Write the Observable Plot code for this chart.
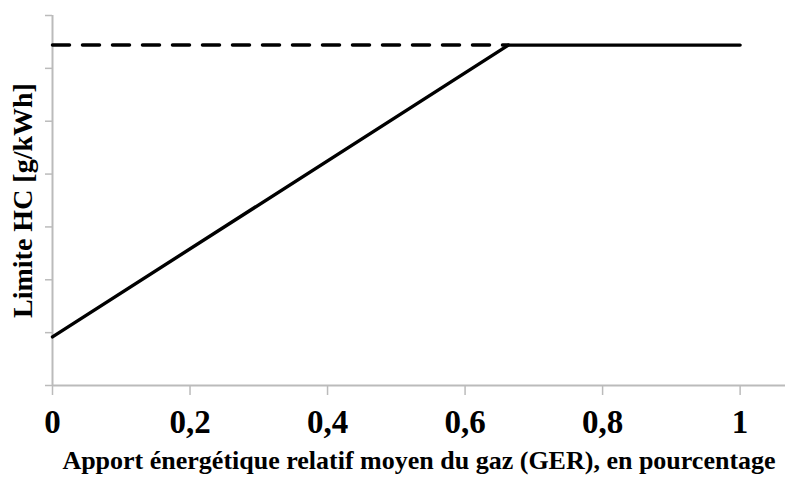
<!DOCTYPE html>
<html><head><meta charset="utf-8">
<script src="https://cdn.jsdelivr.net/npm/d3@7"></script>
<script src="https://cdn.jsdelivr.net/npm/@observablehq/plot@0.6"></script>
<style>body{margin:0;background:#fff}</style>
</head><body><div id="chart"></div>
<script>
const xTicks = [0, 0.2, 0.4, 0.6, 0.8, 1];
const yTicks = [0, 1, 2, 3, 4, 5, 6, 7];
const limitX = [0, 0.663, 1];
const limitY = [0.92, 6.44, 6.44];
const dashedX = [0, 0.663];
const dashedY = [6.44, 6.44];
const xLabel = "Apport énergétique relatif moyen du gaz (GER), en pourcentage";
const yLabel = "Limite HC [g/kWh]";

const solid = limitX.map((x, i) => ({x, y: limitY[i]}));
const dashed = dashedX.map((x, i) => ({x, y: dashedY[i]}));

const chart = Plot.plot({
  width: 801, height: 483,
  marginLeft: 52, marginRight: 16, marginTop: 15, marginBottom: 98,
  style: {fontFamily: "'Liberation Serif', 'Times New Roman', serif", fontWeight: "bold", background: "#fff"},
  x: {domain: [0, 1.066]},
  y: {domain: [0, 7]},
  marks: [
    Plot.axisY({ticks: yTicks, tickFormat: () => "", tickSize: 7, stroke: "#bbb", strokeWidth: 1.5, label: null}),
    Plot.axisX({ticks: xTicks, tickFormat: d => String(d).replace(".", ","), tickSize: 10, tickPadding: 14,
      stroke: "#bbb", strokeWidth: 1.5, fontSize: 33, fill: "#000", label: null}),
    Plot.ruleX([0], {stroke: "#bbb", strokeWidth: 2}),
    Plot.ruleY([0], {stroke: "#bbb", strokeWidth: 2}),
    Plot.line(dashed, {x: "x", y: "y", stroke: "#000", strokeWidth: 3.5, strokeDasharray: "17,13"}),
    Plot.line(solid, {x: "x", y: "y", stroke: "#000", strokeWidth: 3.4}),
    Plot.text([xLabel], {frameAnchor: "bottom", dy: 83, fontSize: 26, fill: "#000", fontWeight: "bold"}),
    Plot.text([yLabel], {frameAnchor: "left", textAnchor: "middle", dx: -29, rotate: -90, fontSize: 28, fill: "#000", fontWeight: "bold"})
  ]
});
document.getElementById("chart").append(chart);
</script>
</body></html>
